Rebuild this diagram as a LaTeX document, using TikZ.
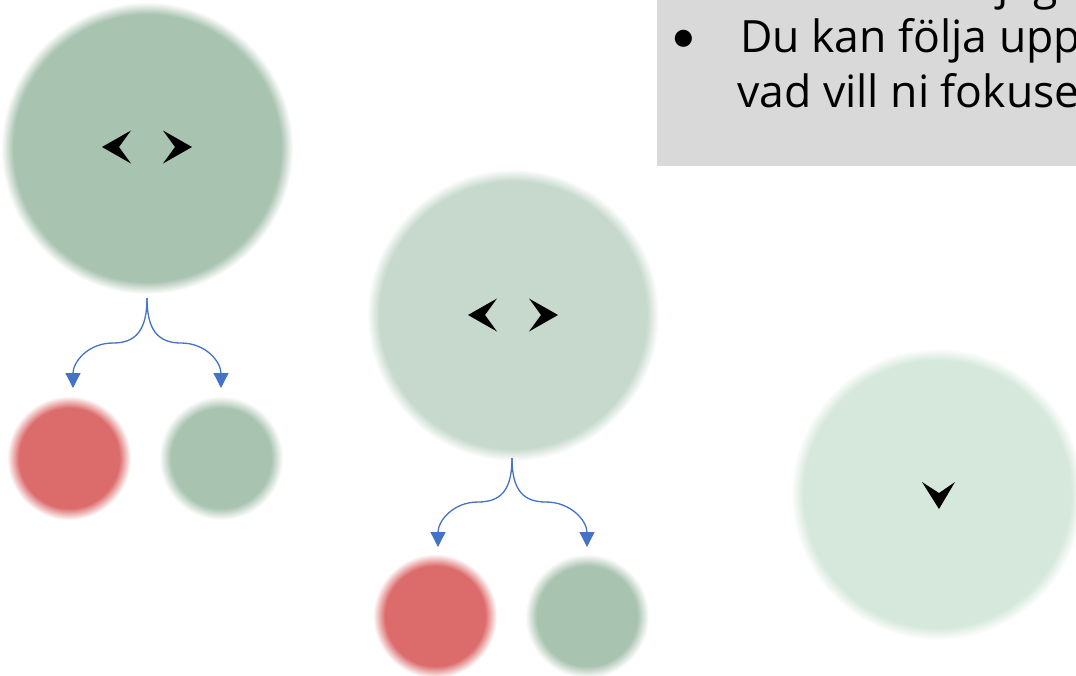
\documentclass[tikz,border=0pt]{standalone}
\usepackage{fontspec}
\setmainfont{Open Sans}
\newfontfamily\bulletfont{Lato}
\usetikzlibrary{arrows.meta}

\definecolor{gDark}{HTML}{A8C3B0}
\definecolor{gMid}{HTML}{C6D9CC}
\definecolor{gLight}{HTML}{D6E8DB}
\definecolor{rSoft}{HTML}{DC6B6B}
\definecolor{boxGray}{HTML}{D9D9D9}
\definecolor{linkBlue}{HTML}{4472C4}

% discs with a soft rim: solid colour up to #3 bp, white at the edge (25bp)
\newcommand\softdisc[3]{%
  \pgfdeclareradialshading{#1}{\pgfpoint{0bp}{0bp}}%
    {color(0bp)=(#2); color(#3bp)=(#2); color(25bp)=(white); color(50bp)=(white)}}
\softdisc{bigDark}{gDark}{22.9}
\softdisc{bigMid}{gMid}{22.9}
\softdisc{bigLight}{gLight}{22.9}
\softdisc{smallRed}{rSoft}{20.2}
\softdisc{smallGreen}{gDark}{20.2}

\tikzset{
  disc/.style={circle, inner sep=0pt, draw=none, shade, shading=#1},
  bigdisc/.style={disc=#1, minimum size=292pt},
  smalldisc/.style={disc=#1, minimum size=124pt},
  fork/.style={draw=linkBlue, line width=1.3pt, -{Triangle[length=15pt,width=15pt]}},
  bodytext/.style={anchor=base west, inner sep=0pt, font=\fontsize{44.5}{55}\selectfont},
}

\newcommand\chevleft[2]{\fill[black] (#1-15,#2) -- (#1+14,#2-16.5) -- (#1+2,#2) -- (#1+14,#2+16.5) -- cycle;}
\newcommand\chevright[2]{\fill[black] (#1+15,#2) -- (#1-14,#2-16.5) -- (#1-2,#2) -- (#1-14,#2+16.5) -- cycle;}

\begin{document}
\begin{tikzpicture}[x=1pt, y=-1pt]
\useasboundingbox (0,0) rectangle (1076,675);
\clip (0,0) rectangle (1076,675);
\fill[white] (0,0) rectangle (1076,675);

% text panel
\fill[boxGray] (657,-5) rectangle (1080,166);
\node[bodytext] (top) at (997,-1) {jag};
\node[anchor=base, inner sep=0pt, font=\bulletfont\fontsize{46}{55}\selectfont] (bul) at (684,52) {•};
\node[bodytext] (l1) at (740,52) {Du kan följa upp};
\node[bodytext] (l2) at (737,107) {vad vill ni fokuse};

% large discs
\node[bigdisc=bigDark]  (c1) at (147,148) {};
\node[bigdisc=bigMid]   (c2) at (513,315) {};
\node[bigdisc=bigLight] (c3) at (937,494) {};

% small discs
\node[smalldisc=smallRed]   (r1) at (69,458) {};
\node[smalldisc=smallGreen] (g1) at (221,458) {};
\node[smalldisc=smallRed]   (r2) at (435,616) {};
\node[smalldisc=smallGreen] (g2) at (587,616) {};

% chevrons
\chevleft{117}{147}
\chevright{177}{147}
\chevleft{483}{315}
\chevright{543}{315}
\fill[black] (939,509) -- (922,482) -- (939,493) -- (955,482) -- cycle;

% forks
\coordinate (f1) at (147,298);
\coordinate (t1l) at (73,388);
\coordinate (t1r) at (221,388);
\coordinate (f2) at (512,458);
\coordinate (t2l) at (438,547);
\coordinate (t2r) at (587,547);

\draw[fork] (f1) .. controls (147,330) and (136,343) .. (113,343) .. controls (88,343) and (73,362) .. (t1l);
\draw[fork] (f1) .. controls (147,330) and (158,343) .. (181,343) .. controls (206,343) and (221,362) .. (t1r);
\draw[fork] (f2) .. controls (512,490) and (501,502) .. (478,502) .. controls (453,502) and (438,521) .. (t2l);
\draw[fork] (f2) .. controls (512,490) and (523,502) .. (546,502) .. controls (571,502) and (587,521) .. (t2r);
\end{tikzpicture}
\end{document}
